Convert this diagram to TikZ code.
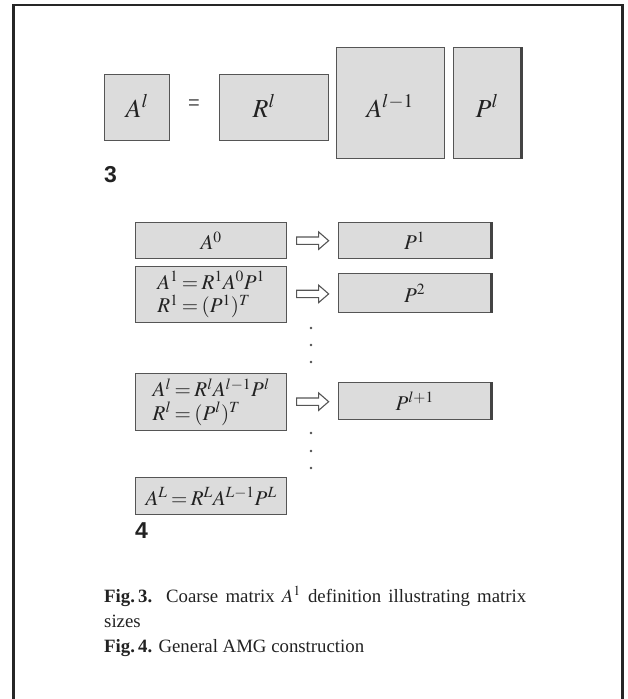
\documentclass[tikz,border=0pt]{standalone}
\usepackage{mathptmx}
\usepackage[no-math]{fontspec}
\setmainfont{Liberation Serif}
\newfontfamily\lblfont{Liberation Sans}
\usetikzlibrary{calc}
\definecolor{boxfill}{HTML}{DCDCDC}
\definecolor{boxline}{HTML}{555555}
\definecolor{inkcol}{HTML}{222222}
\newcommand\mytightmath{\thickmuskip=3mu plus 2mu\relax}
\begin{document}
\begin{tikzpicture}[x=1pt,y=-1pt,
  mbox/.style={draw=boxline, fill=boxfill, line width=1.3pt, rectangle, inner sep=0pt, anchor=north west, text=inkcol},
  pshadow/.style={draw=boxline!80!black, line width=2.6pt},
  tbig/.style={anchor=base, inner sep=0pt, text=inkcol, font=\fontsize{26}{26}\selectfont},
  tsmall/.style={font=\fontsize{21}{23.5}\selectfont\mytightmath, align=left},
  harrow/.style={draw=boxline, fill=white, line width=1.1pt, line join=miter},
  dotc/.style={fill=inkcol!80},
  lbl/.style={anchor=base west, inner sep=0pt, text=inkcol, font=\lblfont\bfseries\fontsize{23}{23}\selectfont},
  captxt/.style={anchor=base west, inner sep=0pt, text=inkcol, font=\fontsize{18.8}{25}\selectfont}
]
\useasboundingbox (0,0) rectangle (628,699);
% outer frame
\draw[line width=2.2pt, black!85] (13.5,699) -- (13.5,5) -- (622.5,5) -- (622.5,699);

% ---------- Fig. 3 ----------
\node[mbox, minimum width=65pt, minimum height=66pt] (Al) at (104,74) {};
\node[mbox, minimum width=109pt, minimum height=66pt] (Rl) at (219,74) {};
\node[mbox, minimum width=108pt, minimum height=111pt] (Alm) at (336,47) {};
\node[mbox, minimum width=67pt, minimum height=111pt] (Pl) at (453,47) {};
\draw[pshadow] (Pl.north east) -- (Pl.south east);
\node[tbig] (tAl) at (137,117) {$A^l$};
\node[anchor=center, inner sep=0pt, text=inkcol!80, font=\lblfont\fontsize{20}{20}\selectfont] (eq) at (194,105) {=};
\node[tbig] (tRl) at (264,117) {$R^l$};
\node[tbig] (tAlm) at (390,117) {$A^{l-1}$};
\node[tbig] (tPl) at (487,117) {$P^l$};
\node[lbl] (n3) at (104,182) {3};

% ---------- Fig. 4 ----------
\node[mbox, tsmall, minimum width=151pt, minimum height=36pt] (A0) at (135,222) {$A^0$};
\node[mbox, tsmall, minimum width=152pt, minimum height=36pt] (P1) at (338,222) {$P^1$};
\draw[pshadow] (P1.north east) -- (P1.south east);
\node[mbox, tsmall, minimum width=151pt, minimum height=56pt] (A1) at (135,266) {$A^1=R^1A^0P^1$\\$R^1=(P^1)^T$};
\node[mbox, tsmall, minimum width=152pt, minimum height=39pt] (P2) at (338,273) {$P^2$};
\draw[pshadow] (P2.north east) -- (P2.south east);
\node[mbox, tsmall, minimum width=151pt, minimum height=57pt] (Alb) at (135,373) {$A^l=R^lA^{l-1}P^l$\\$R^l=(P^l)^T$};
\node[mbox, tsmall, minimum width=152pt, minimum height=37pt] (Plp) at (338,382) {$P^{l+1}$};
\draw[pshadow] (Plp.north east) -- (Plp.south east);
\node[mbox, tsmall, minimum width=151pt, minimum height=37pt] (AL) at (135,477) {$A^L=R^LA^{L-1}P^L$};
\node[lbl] (n4) at (135,538) {4};

% hollow arrows
\foreach \a/\b in {A0/P1, A1/P2, Alb/Plp}{
  \draw[harrow] ($(\a.east)!0.5!(\b.west)$) ++(-16,-3.7) -- ++(22,0) -- ++(0,-5) -- ++(10,8.7) -- ++(-10,8.7) -- ++(0,-5) -- ++(-22,0) -- cycle;
}
% vertical dots
\foreach \y in {328,345,362,433,451,468}{
  \fill[dotc] (311,\y) circle (1.3);
}

% ---------- captions ----------
\node[captxt] (cap1) at (104,602) {\makebox[422pt][s]{\textbf{Fig.\,3.} Coarse matrix $A^1$ definition illustrating matrix}};
\node[captxt] (cap2) at (104,627) {sizes};
\node[captxt] (cap3) at (104,652) {\textbf{Fig.\,4.} General AMG construction};
\end{tikzpicture}
\end{document}
